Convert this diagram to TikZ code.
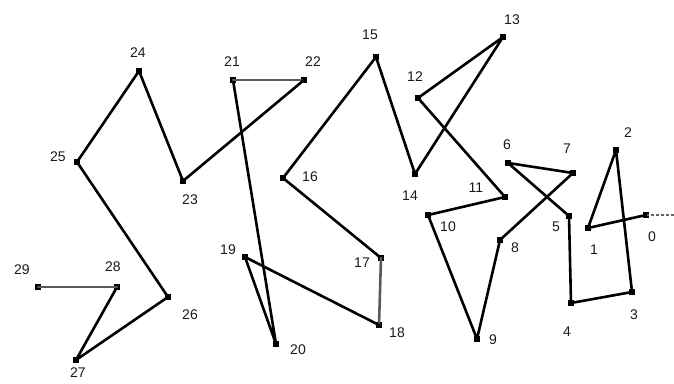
\documentclass[tikz,border=0pt]{standalone}
\usepackage{fontspec}
\setmainfont{Liberation Sans}
\begin{document}
\begin{tikzpicture}[x=1pt,y=-1pt,
  dot/.style={rectangle,fill=black,minimum size=6pt,inner sep=0pt},
  lab/.style={font=\fontsize{14}{14}\selectfont,text=black!90,inner sep=0pt},
  seg/.style={line width=2.6pt,line cap=round,line join=round},
  lseg/.style={seg,draw=black!65},
  trail/.style={line width=1.2pt,dashed,dash pattern=on 2.5pt off 2.5pt,draw=black!60}]
\useasboundingbox (0,0) rectangle (674,383);
% points
\node[dot] (p0) at (646,215) {};
\node[dot] (p1) at (588,228) {};
\node[dot] (p2) at (616,150) {};
\node[dot] (p3) at (632,292) {};
\node[dot] (p4) at (571,303) {};
\node[dot] (p5) at (569,216) {};
\node[dot] (p6) at (508,163) {};
\node[dot] (p7) at (573,173) {};
\node[dot] (p8) at (500,240) {};
\node[dot] (p9) at (477,339) {};
\node[dot] (p10) at (428,215) {};
\node[dot] (p11) at (505,197) {};
\node[dot] (p12) at (418,98) {};
\node[dot] (p13) at (503,37) {};
\node[dot] (p14) at (415,174) {};
\node[dot] (p15) at (376,57) {};
\node[dot] (p16) at (283,178) {};
\node[dot] (p17) at (381,258) {};
\node[dot] (p18) at (379,325) {};
\node[dot] (p19) at (245,257) {};
\node[dot] (p20) at (276,344) {};
\node[dot] (p21) at (233,80) {};
\node[dot] (p22) at (304,80) {};
\node[dot] (p23) at (183,181) {};
\node[dot] (p24) at (139,71) {};
\node[dot] (p25) at (77,162) {};
\node[dot] (p26) at (168,297) {};
\node[dot] (p27) at (76,360) {};
\node[dot] (p28) at (117,287) {};
\node[dot] (p29) at (38,287) {};
\coordinate (tail) at (674,215);
% connectors
\draw[trail] (p0.center) -- (tail);
\draw[seg] (p0.center) -- (p1.center) -- (p2.center) -- (p3.center) -- (p4.center)
  -- (p5.center) -- (p6.center) -- (p7.center) -- (p8.center) -- (p9.center)
  -- (p10.center) -- (p11.center) -- (p12.center) -- (p13.center) -- (p14.center)
  -- (p15.center) -- (p16.center) -- (p17.center);
\draw[lseg] (p17.center) -- (p18.center);
\draw[seg] (p18.center) -- (p19.center) -- (p20.center) -- (p21.center);
\draw[lseg] (p21.center) -- (p22.center);
\draw[seg] (p22.center) -- (p23.center) -- (p24.center) -- (p25.center) -- (p26.center)
  -- (p27.center) -- (p28.center);
\draw[lseg] (p28.center) -- (p29.center);
% labels
\node[lab] (l0) at (652,237) {0};
\node[lab] (l1) at (594,250) {1};
\node[lab] (l2) at (628,133) {2};
\node[lab] (l3) at (634,315) {3};
\node[lab] (l4) at (567,332) {4};
\node[lab] (l5) at (556,227) {5};
\node[lab] (l6) at (507,145) {6};
\node[lab] (l7) at (567,149) {7};
\node[lab] (l8) at (515,248) {8};
\node[lab] (l9) at (493,340) {9};
\node[lab] (l10) at (448,227) {10};
\node[lab] (l11) at (476,188) {11};
\node[lab] (l12) at (415,77) {12};
\node[lab] (l13) at (512,20) {13};
\node[lab] (l14) at (410,196) {14};
\node[lab] (l15) at (370,35) {15};
\node[lab] (l16) at (310,177) {16};
\node[lab] (l17) at (362,263) {17};
\node[lab] (l18) at (397,333) {18};
\node[lab] (l19) at (228,250) {19};
\node[lab] (l20) at (298,350) {20};
\node[lab] (l21) at (232,62) {21};
\node[lab] (l22) at (313,62) {22};
\node[lab] (l23) at (190,200) {23};
\node[lab] (l24) at (138,53) {24};
\node[lab] (l25) at (58,157) {25};
\node[lab] (l26) at (190,315) {26};
\node[lab] (l27) at (78,373) {27};
\node[lab] (l28) at (113,267) {28};
\node[lab] (l29) at (22,270) {29};
\end{tikzpicture}
\end{document}
